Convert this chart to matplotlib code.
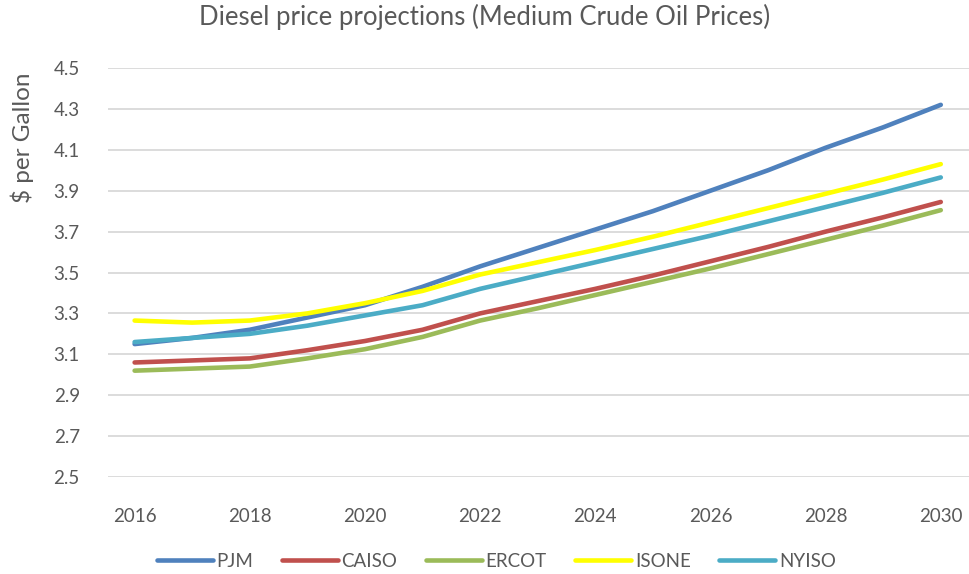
import matplotlib
matplotlib.use("Agg")
import matplotlib.pyplot as plt

YEARS = list(range(2016, 2031))
PJM = [3.15, 3.18, 3.22, 3.28, 3.34, 3.43, 3.53, 3.62, 3.71, 3.80, 3.90, 4.00, 4.11, 4.21, 4.32]
CAISO = [3.06, 3.07, 3.08, 3.12, 3.165, 3.22, 3.30, 3.36, 3.42, 3.485, 3.555, 3.625, 3.70, 3.77, 3.845]
ERCOT = [3.02, 3.03, 3.04, 3.08, 3.125, 3.185, 3.265, 3.325, 3.39, 3.455, 3.52, 3.59, 3.66, 3.73, 3.805]
ISONE = [3.265, 3.255, 3.265, 3.30, 3.35, 3.41, 3.49, 3.55, 3.61, 3.675, 3.745, 3.815, 3.885, 3.955, 4.03]
NYISO = [3.16, 3.18, 3.20, 3.24, 3.29, 3.34, 3.42, 3.485, 3.55, 3.615, 3.68, 3.75, 3.82, 3.89, 3.965]
Y_TICKS = [2.5, 2.7, 2.9, 3.1, 3.3, 3.5, 3.7, 3.9, 4.1, 4.3, 4.5]
X_TICKS = list(range(2016, 2031, 2))

plt.rcParams["font.family"] = ["Lato", "DejaVu Sans"]
GREY = "#595959"

fig = plt.figure(figsize=(9.69, 5.74), dpi=100)
ax = fig.add_axes([0.111, 0.169, 0.889, 0.7125])

series = [("PJM", PJM, "#4F81BD"), ("CAISO", CAISO, "#C0504D"),
          ("ERCOT", ERCOT, "#9BBB59"), ("ISONE", ISONE, "#FFFF00"),
          ("NYISO", NYISO, "#4BACC6")]
for name, vals, c in series:
    ax.plot(YEARS, vals, color=c, lw=3.3, solid_capstyle="round",
            solid_joinstyle="round", label=name)

ax.set_xlim(2015.53, 2030.49)
ax.set_ylim(2.5, 4.5)
ax.set_yticks(Y_TICKS)
ax.set_yticklabels([f"{v:.1f}" for v in Y_TICKS])
ax.set_xticks(X_TICKS)
ax.tick_params(length=0, labelsize=13.5, labelcolor=GREY)
ax.tick_params(axis="x", pad=22)
ax.tick_params(axis="y", pad=20)
ax.grid(axis="y", color="#d9d9d9", lw=1.3)
ax.set_axisbelow(True)
for s in ax.spines.values():
    s.set_visible(False)

fig.text(0.5, 0.97, "Diesel price projections (Medium Crude Oil Prices)",
         ha="center", va="center", fontsize=18.5, color=GREY)
fig.text(0.023, 0.76, "$ per Gallon", rotation=90, ha="center", va="center",
         fontsize=17.5, color=GREY)

fig.legend(loc="center", bbox_to_anchor=(0.512, 0.022), ncol=5, frameon=False,
           fontsize=13.5, labelcolor=GREY, handlelength=3.0, handletextpad=0.2,
           columnspacing=1.5)

fig.savefig("out.png", dpi=100)
